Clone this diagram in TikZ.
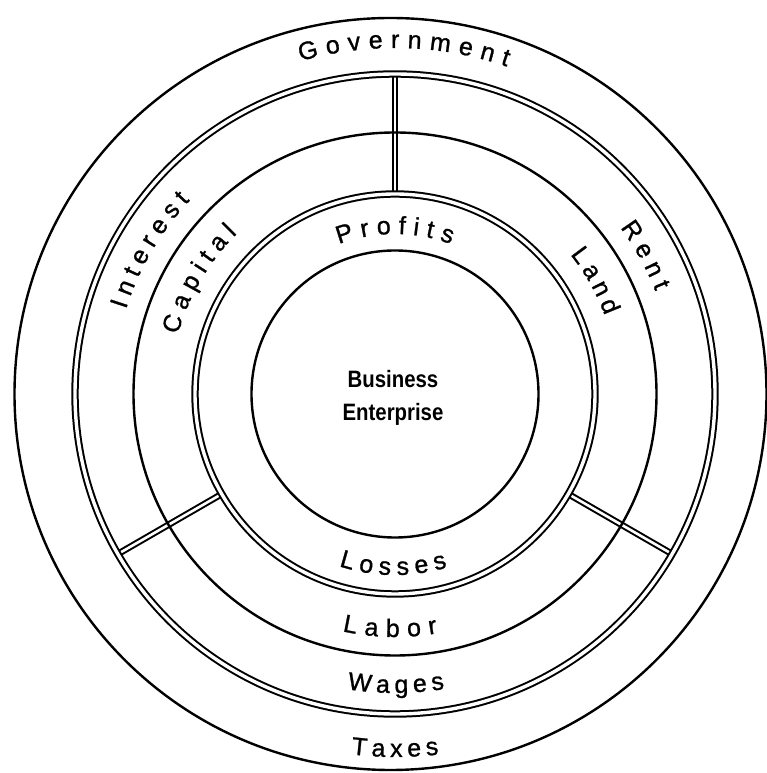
\documentclass[tikz,border=0pt]{standalone}
\usepackage{fontspec}
\usetikzlibrary{calc,backgrounds}
\newfontfamily\lblfam{Liberation Sans}[FakeBold=1]
\newfontfamily\befam{Liberation Sans}[FakeStretch=0.86]
\newcommand\lblfont{\lblfam\fontsize{25}{30}\selectfont}
\newdimen\chw
\newcommand\measurelet[1]{\setbox0\hbox{\lblfont#1}\expandafter\xdef\csname lw@#1\endcsname{\the\wd0}}
% #1 name, #2 baseline radius, #3 middle angle, #4 direction (1 = clockwise, tops outward; -1 = counter-clockwise, tops inward), #5 extra letter gap, #6 letters
\newcommand\arclabel[6]{%
  \gdef\arcW{0}\gdef\nlet{0}%
  \foreach \ch in {#6}{%
    \global\chw=\csname lw@\ch\endcsname\relax
    \pgfmathsetmacro\tmp{\arcW+\chw}\xdef\arcW{\tmp}%
    \pgfmathtruncatemacro\tmp{\nlet+1}\xdef\nlet{\tmp}}%
  \pgfmathsetmacro\tmp{\arcW+(\nlet-1)*(#5)}\xdef\arcW{\tmp}%
  \gdef\arcPos{0}%
  \foreach \ch [count=\k] in {#6}{%
    \global\chw=\csname lw@\ch\endcsname\relax
    \pgfmathsetmacro\sdist{\arcPos+0.5*\chw-0.5*\arcW}%
    \pgfmathsetmacro\ang{#3-(#4)*\sdist/(#2)*180/pi}%
    \pgfmathsetmacro\rot{\ang-(#4)*90}%
    \node[lbl, rotate=\rot, anchor=base] (#1-\k) at ($(c)+(\ang:#2)$) {\ch};
    \pgfmathsetmacro\tmp{\arcPos+\chw+(#5)}\xdef\arcPos{\tmp}}%
}
\begin{document}
\foreach \c in {G,o,v,e,r,n,m,t,P,f,i,s,I,C,a,p,l,R,L,d,T,x,W,g,b}{\expandafter\measurelet\expandafter{\c}}%
\begin{tikzpicture}[x=1pt,y=1pt,
  ring/.style={circle, draw, line width=2.4pt, inner sep=0pt, outer sep=0pt},
  dring/.style={ring, line width=2pt, double, double distance=3.4pt},
  divider/.style={draw, line width=2pt, double, double distance=2.6pt},
  lbl/.style={font=\lblfont, inner sep=0pt},
  betext/.style={font=\befam\bfseries\fontsize{23.7}{33}\selectfont, align=center, inner sep=0pt}]
\useasboundingbox (0,0) rectangle (767,773);
\coordinate (c) at (395,379);
\coordinate (co) at (390.5,379);
\node[ring, minimum size=752pt] (outer) at (co) {};
\node[dring, minimum size=640pt] (wring) at (c) {};
\node[ring, minimum size=523pt] (lring) at (c) {};
\node[dring, minimum size=400pt] (pring) at (c) {};
\node[ring, minimum size=287pt] (inner) at (c) {};
\node[betext] (be) at (393,375.5) {Business\\Enterprise};
\begin{scope}[on background layer]
  \fill[white] (0,0) rectangle (767,773);
  \draw[divider] (pring.90) -- (wring.90);
  \draw[divider] (pring.210) -- (wring.210);
  \draw[divider] (pring.330) -- (wring.330);
\end{scope}
\arclabel{gov}{346}{88.5}{1}{8}{G,o,v,e,r,n,m,e,n,t}
\arclabel{prof}{160}{90}{1}{7.3}{P,r,o,f,i,t,s}
\arclabel{int}{282}{149.6}{1}{6.3}{I,n,t,e,r,e,s,t}
\arclabel{cap}{225}{149.6}{1}{6.8}{C,a,p,i,t,a,l}
\arclabel{rent}{280}{29}{1}{6.7}{R,e,n,t}
\arclabel{land}{224}{29.5}{1}{5}{L,a,n,d}
\arclabel{taxes}{363}{270}{-1}{5}{T,a,x,e,s}
\arclabel{wages}{299}{270.2}{-1}{5}{W,a,g,e,s}
\arclabel{labor}{243}{268.8}{-1}{8}{L,a,b,o,r}
\arclabel{losses}{181}{269.4}{-1}{6.2}{L,o,s,s,e,s}
\end{tikzpicture}
\end{document}
